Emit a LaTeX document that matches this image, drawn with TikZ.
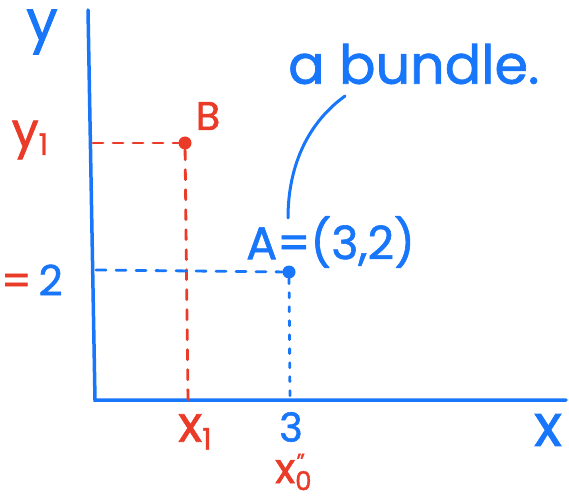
\documentclass[tikz,border=0pt]{standalone}
\usepackage{fontspec}
\setmainfont{Poppins}[RawFeature={embolden=1.3}]
\definecolor{pblue}{RGB}{24,118,250}
\definecolor{pred}{RGB}{234,58,40}
\newcommand{\fs}[1]{\fontsize{#1}{#1}\selectfont}
\begin{document}
\begin{tikzpicture}[x=1pt,y=-1pt,
  axis/.style={pblue,line width=3.5pt,line cap=round},
  rdash/.style={pred,line width=2.8pt,dash pattern=on 10pt off 10pt,line cap=round},
  bdash/.style={pblue,line width=2.8pt,dash pattern=on 10pt off 10pt,line cap=round},
  bdot/.style={pblue,line width=2.8pt,dash pattern=on 5pt off 9pt,line cap=round},
  dotpt/.style={circle,fill,inner sep=0pt,minimum size=13pt},
  lbl/.style={font=\fs{36},inner sep=0pt},
]
\useasboundingbox (0,0) rectangle (569,502);
% axes
\coordinate (ytop) at (88,10);
\coordinate (origin) at (95,400);
\coordinate (xend) at (566,400);
\draw[axis] (ytop) -- (origin) -- (xend);
% points
\node[dotpt,pred] (B) at (185,143) {};
\node[dotpt,pblue] (A) at (289,272) {};
\coordinate (By) at (93,143);
\coordinate (Bx) at (188,400);
\coordinate (Ay) at (96,270);
\coordinate (Ax) at (290,400);
\draw[rdash] (By) -- (B);
\draw[rdash] (B) -- (Bx);
\draw[bdash] (Ay) -- (A);
\draw[bdot] (A) -- (Ax);
% labels
\node[lbl,pblue] (ylab) at (42,32) {\fs{56}y};
\node[lbl,pred] (y1) at (30,140) {\fs{48}y\raisebox{-8pt}{\fs{30}1}};
\node[lbl] (eq2) at (32,280) {\fs{42}\textcolor{pred}{=}\,\textcolor{pblue}{2}};
\node[lbl,pred] (Blab) at (208,116) {\fs{40}B};
\node[lbl,pblue,anchor=west] (Alab) at (246,242) {\fs{46}A=(3,2)};
\node[lbl,pred] (x1) at (195,432) {\fs{50}x\raisebox{-8pt}{\fs{30}1}};
\node[lbl,pblue] (three) at (291,427) {\fs{40}3};
\node[lbl,pred] (x0) at (290,472) {\fs{42}x\raisebox{-7pt}{\fs{26}0}\hspace{-15pt}\raisebox{14pt}{\fs{22}''}};
\node[lbl,pblue] (xlab) at (548,430) {\fs{58}x};
\node[lbl,pblue,anchor=west] (bundle) at (288,64) {\fs{54}a bundle.};
\coordinate (cstart) at (345,96);
\coordinate (cend) at (288,218);
\draw[pblue,line width=3pt,line cap=round] (cstart) .. controls (305,125) and (288,170) .. (cend);
\end{tikzpicture}
\end{document}
